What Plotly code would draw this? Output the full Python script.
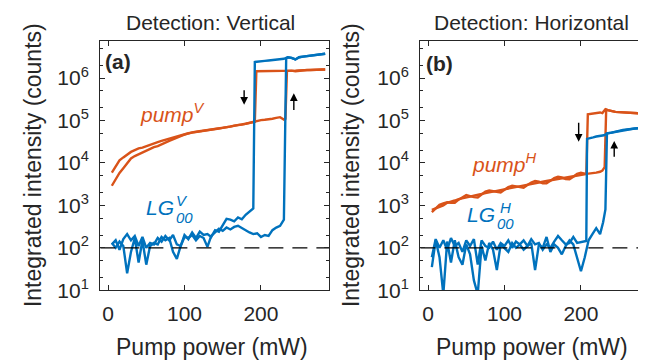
import plotly.graph_objects as go

# ---------------- data: panel (a), detection vertical ----------------
x_low_a = [5, 10, 15, 20, 25, 30, 35, 40, 45, 50, 55, 60, 65, 70, 75, 80, 85, 90, 95,
           100, 105, 110, 115, 120, 125, 130, 135, 140, 145, 150, 155, 160, 165, 170,
           175, 180, 185, 190]

# pump (orange), decreasing-power sweep
pump_dn_a_x = x_low_a + [192, 194, 200, 210, 220, 230, 235, 240, 245, 250, 260, 270, 280, 284]
pump_dn_a_y = [5900, 8500, 11500, 13500, 16000, 18200, 20000, 22000, 23000, 25000, 27000,
               29000, 31000, 33000, 35000, 37500, 40000, 43000, 46000, 48000, 50000, 52000,
               54000, 56000, 57500, 59000, 61000, 63000, 65000, 67000, 70000, 73000, 75000,
               78000, 80000, 83000, 87000, 91000,
               93000, 1.45e6, 1.45e6, 1.45e6, 1.45e6, 1.45e6, 1.5e6, 1.45e6, 1.5e6, 1.52e6,
               1.55e6, 1.55e6, 1.6e6, 1.6e6]
# pump (orange), increasing-power sweep
pump_up_a_x = x_low_a + [195, 200, 205, 210, 215, 220, 225, 230, 232, 234, 240, 245, 250,
                         255, 260, 265, 270, 275, 280, 284]
pump_up_a_y = [2900, 4100, 5800, 7500, 9800, 12800, 14500, 16000, 17500, 19500, 21500,
               23500, 25000, 27000, 30000, 33000, 36500, 39500, 43000, 46500, 50000, 52500,
               54500, 56000, 58000, 60000, 61500, 64000, 66000, 68000, 70000, 72000, 76000,
               77000, 81000, 84000, 88000, 95000,
               100000, 102000, 104000, 106000, 110000, 115000, 120000, 105000, 110000,
               1.48e6, 1.5e6, 1.45e6, 1.5e6, 1.52e6, 1.55e6, 1.55e6, 1.58e6, 1.6e6, 1.6e6,
               1.6e6]
# LG00 (blue), decreasing-power sweep
lg_dn_a_x = x_low_a + [192, 195, 200, 205, 210, 215, 220, 225, 230, 235, 240, 245, 250,
                       255, 260, 265, 270, 275, 280, 284]
lg_dn_a_y = [120, 150, 90, 160, 210, 150, 190, 110, 180, 100, 130, 120, 170, 140, 190,
             150, 200, 120, 110, 200, 160, 230, 170, 240, 200, 210, 180, 260, 240, 330,
             480, 460, 420, 520, 470, 600, 700, 850,
             2.4e6, 2.45e6, 2.5e6, 2.55e6, 2.6e6, 2.65e6, 2.7e6, 2.75e6, 2.85e6, 3.1e6,
             3.0e6, 2.75e6, 3.1e6, 3.2e6, 3.3e6, 3.4e6, 3.5e6, 3.6e6, 3.7e6, 3.75e6]
# LG00 (blue), increasing-power sweep
lg_up_a_x = x_low_a + [195, 200, 205, 210, 215, 220, 225, 230, 233, 235, 240, 245, 250,
                       255, 260, 265, 270, 275, 280, 284]
lg_up_a_y = [130, 100, 140, 110, 25, 80, 170, 45, 150, 40, 110, 130, 120, 180, 150, 170,
             80, 55, 110, 180, 170, 200, 150, 190, 170, 105, 190, 230, 280, 250, 300, 270,
             310, 330, 290, 260, 230, 210,
             220, 180, 200, 190, 260, 300, 330, 460, 2.9e6, 3.1e6, 3.0e6, 2.75e6, 3.1e6,
             3.2e6, 3.3e6, 3.4e6, 3.5e6, 3.6e6, 3.7e6, 3.75e6]

# ---------------- data: panel (b), detection horizontal ----------------
x_low_b = [5, 10, 15, 20, 25, 30, 35, 40, 45, 50, 55, 60, 65, 70, 75, 80, 85, 90, 95,
           100, 105, 110, 115, 120, 125, 130, 135, 140, 145, 150, 155, 160, 165, 170,
           175, 180, 185, 190, 195, 200, 205]

pump_dn_b_x = x_low_b + [207, 209, 215, 220, 225, 228, 232, 235, 240, 245, 250, 260, 270,
                         280, 284]
pump_dn_b_y = [780, 850, 950, 1000, 1150, 1250, 1300, 1400, 1450, 1550, 1600, 1700, 1750,
               1850, 1950, 2000, 2100, 2200, 2300, 2400, 2500, 2600, 2700, 2850, 2950, 3100,
               3200, 3350, 3500, 3600, 3750, 3900, 4050, 4200, 4400, 4550, 4700, 4900,
               5100, 5250, 5400,
               5500, 1.4e5, 1.45e5, 1.5e5, 1.55e5, 1.5e5, 1.85e5, 1.75e5, 1.65e5, 1.6e5,
               1.58e5, 1.55e5, 1.5e5, 1.48e5, 1.45e5]
pump_up_b_x = x_low_b + [210, 215, 220, 225, 228, 231, 233, 235, 240, 245, 250, 260, 270,
                         280, 284]
pump_up_b_y = [690, 825, 1030, 1120, 1185, 1150, 1145, 1360, 1570, 1740, 1650, 1560, 1540,
               1800, 2110, 2240, 2160, 2020, 2020, 2330, 2700, 2910, 2780, 2620, 2600, 3010,
               3460, 3750, 3600, 3310, 3300, 3780, 4370, 4700, 4530, 4190, 4140, 4750,
               5500, 5880, 5560,
               5600, 5700, 5900, 6200, 6600, 8000, 1.8e5, 1.75e5, 1.65e5, 1.6e5, 1.58e5,
               1.55e5, 1.5e5, 1.48e5, 1.45e5]
lg_dn_b_x = x_low_b + [207, 208, 212, 216, 220, 225, 230, 235, 240, 245, 250, 255, 260,
                       265, 270, 275, 280, 284]
lg_dn_b_y = [60, 160, 100, 150, 90, 170, 110, 130, 80, 150, 110, 160, 40, 150, 110, 100,
             140, 90, 130, 110, 150, 100, 140, 120, 150, 110, 160, 120, 130, 90, 120, 100,
             140, 190, 150, 120, 130, 180, 130, 135, 140,
             145, 37000, 38000, 40000, 42000, 44000, 45000, 50000, 52000, 55000, 57000,
             60000, 62000, 63000, 65000, 66000, 67000, 68000]
lg_up_b_x = x_low_b + [210, 215, 220, 225, 229, 232, 234, 240, 245, 250, 255, 260, 265,
                       270, 275, 280, 284]
lg_up_b_y = [35, 150, 60, 8, 140, 45, 150, 60, 40, 120, 70, 17, 8, 110, 50, 130, 90, 30,
             120, 100, 80, 130, 100, 120, 90, 110, 130, 30, 120, 100, 180, 80, 120, 100,
             70, 110, 150, 120, 60, 28, 60,
             150, 210, 290, 210, 400, 800, 50000, 52000, 55000, 57000, 60000, 62000,
             63000, 65000, 66000, 67000, 68000]

noise_floor = 100
x_floor = [-10, 289]

y_tick_vals = [1e1, 1e2, 1e3, 1e4, 1e5, 1e6]
y_tick_text = ["10<sup>1</sup>", "10<sup>2</sup>", "10<sup>3</sup>", "10<sup>4</sup>",
               "10<sup>5</sup>", "10<sup>6</sup>"]
x_tick_vals = [0, 100, 200]

BLUE = "#0072BD"
ORANGE = "#D95319"
TXT = "#262626"
FONT = "Liberation Sans, Arial, sans-serif"
W, H = 646, 364

fig = go.Figure()

def add_panel(xa, ya, series):
    for xs, ys, col in series:
        fig.add_trace(go.Scatter(x=xs, y=ys, mode="lines", xaxis=xa, yaxis=ya,
                                 line=dict(color=col, width=2.4), showlegend=False,
                                 hoverinfo="skip"))
    fig.add_trace(go.Scatter(x=x_floor, y=[noise_floor, noise_floor], mode="lines",
                             xaxis=xa, yaxis=ya, showlegend=False, hoverinfo="skip",
                             line=dict(color="black", width=1.3, dash="15px,9px")))

add_panel("x", "y", [(pump_up_a_x, pump_up_a_y, ORANGE), (pump_dn_a_x, pump_dn_a_y, ORANGE),
                     (lg_up_a_x, lg_up_a_y, BLUE), (lg_dn_a_x, lg_dn_a_y, BLUE)])
add_panel("x2", "y2", [(pump_up_b_x, pump_up_b_y, ORANGE), (pump_dn_b_x, pump_dn_b_y, ORANGE),
                       (lg_up_b_x, lg_up_b_y, BLUE), (lg_dn_b_x, lg_dn_b_y, BLUE)])

def xax(dom, anchor):
    return dict(domain=dom, anchor=anchor, range=[-10.5, 289], tickvals=x_tick_vals,
                ticks="inside", ticklen=5, tickcolor=TXT, mirror="allticks", showline=True,
                linecolor=TXT, linewidth=1, showgrid=False, zeroline=False,
                tickfont=dict(size=21, color=TXT, family=FONT), ticklabelstandoff=5)

def yax(anchor):
    return dict(domain=[1 - 291 / H, 1 - 34 / H], anchor=anchor, type="log",
                range=[1, 6.875], tickvals=y_tick_vals, ticktext=y_tick_text,
                ticks="inside", ticklen=5, tickcolor=TXT, mirror="allticks", showline=True,
                linecolor=TXT, linewidth=1, showgrid=False, zeroline=False,
                minor=dict(ticks="inside", ticklen=3, tickcolor=TXT, showgrid=False),
                tickfont=dict(size=21, color=TXT, family=FONT), ticklabelstandoff=6)

fig.update_layout(
    width=W, height=H, margin=dict(l=0, r=0, t=0, b=0),
    paper_bgcolor="white", plot_bgcolor="white",
    font=dict(family=FONT, color=TXT),
    xaxis=xax([92 / W, 321 / W], "y"), yaxis=yax("x"),
    xaxis2=xax([412 / W, 641 / W], "y2"), yaxis2=yax("x2"),
)

def px(xp, yp):
    return xp / W, 1 - yp / H

def text(xp, yp, s, size, color=TXT, angle=0):
    x, y = px(xp, yp)
    fig.add_annotation(x=x, y=y, xref="paper", yref="paper", text=s, showarrow=False,
                       font=dict(size=size, color=color, family=FONT), textangle=angle,
                       xanchor="center", yanchor="middle", borderpad=0)

# titles
text(202, 15, "Detection: Vertical", 21)
text(523, 15, "Detection: Horizontal", 21)
# axis titles
text(25, 162, "Integrated intensity (counts)", 23, angle=-90)
text(343, 162, "Integrated intensity (counts)", 23, angle=-90)
text(204, 350, "Pump power (mW)", 23)
text(524, 350, "Pump power (mW)", 23)
# panel letters
text(110, 55, "<b>(a)</b>", 21)
text(431, 57, "<b>(b)</b>", 21)
# series labels
text(164, 108, "<i>pump<sup>V</sup></i>", 21, ORANGE)
text(496, 160, "<i>pump<sup>H</sup></i>", 21, ORANGE)
text(152, 206, "<i>LG</i>", 21, BLUE)
text(174, 198, "<i>V</i>", 15, BLUE)
text(176, 216, "<i>00</i>", 15, BLUE)
text(473, 213, "<i>LG</i>", 21, BLUE)
text(497, 206, "<i>H</i>", 15, BLUE)
text(497, 222, "<i>00</i>", 15, BLUE)

# hysteresis arrows (data coordinates, log10 for y)
arrows = [("x", "y", 178, 5.75, 5.37), ("x", "y", 243, 5.21, 5.64),
          ("x2", "y2", 197, 4.98, 4.50), ("x2", "y2", 243.5, 4.11, 4.52)]
for xr, yr, xv, y_tail, y_head in arrows:
    fig.add_annotation(x=xv, y=y_head, ax=xv, ay=y_tail, xref=xr, yref=yr, axref=xr,
                       ayref=yr, showarrow=True, arrowhead=2, arrowsize=1.1, arrowwidth=1.4,
                       arrowcolor="black", text="")

fig.write_html("out.html")
